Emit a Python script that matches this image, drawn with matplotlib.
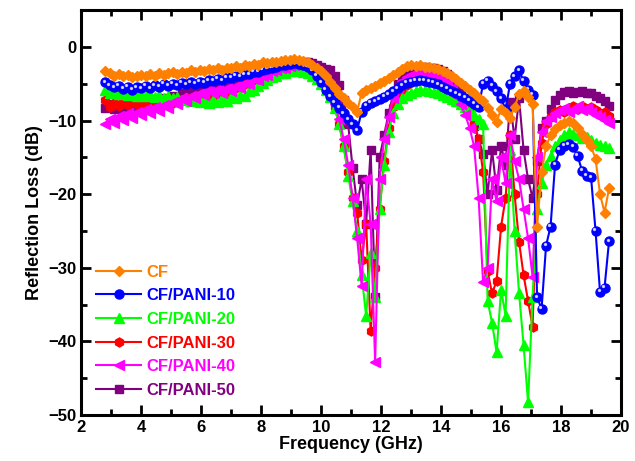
import numpy as np
import matplotlib

matplotlib.use("Agg")
import matplotlib.pyplot as plt
from matplotlib.transforms import offset_copy

plt.rcParams["font.family"] = ["Liberation Sans", "DejaVu Sans"]
plt.rcParams["font.weight"] = "bold"

# frequency sweep (GHz), 0.15 GHz step
freq = np.round(2.8 + 0.15 * np.arange(113), 2)

cf = [
    -3.3, -3.6, -3.9, -3.7, -4.0, -3.8, -4.1, -3.9, -3.8, -4.0,
    -3.7, -3.9, -3.6, -3.8, -3.6, -3.4, -3.7, -3.4, -3.5, -3.2,
    -3.4, -3.1, -3.3, -3.0, -3.2, -2.9, -3.1, -2.8, -2.9, -2.6,
    -2.8, -2.5, -2.6, -2.3, -2.4, -2.1, -2.2, -2.0, -2.0, -1.9,
    -1.8, -1.8, -1.7, -1.8, -1.9, -2.1, -2.4, -2.8, -3.3, -4.0,
    -4.8, -5.6, -6.4, -7.0, -7.6, -8.2, -8.8, -6.2, -5.9, -5.6,
    -5.3, -4.9, -4.6, -4.2, -3.8, -3.4, -3.0, -2.6, -2.5, -2.6,
    -2.5, -2.7, -2.7, -2.9, -3.0, -3.3, -3.6, -4.0, -4.4, -4.9,
    -5.3, -5.8, -6.3, -6.9, -7.4, -8.3, -9.3, -10.2, -8.4, -9.0,
    -9.6, -8.2, -6.4, -6.0, -6.8, -7.8, -24.4, -17.0, -13.5, -12.0,
    -11.2, -10.6, -10.3, -10.0, -10.4, -11.0, -11.8, -12.6, -13.5, -15.2,
    -20.0, -22.5, -19.2,
]
pani10 = [
    -4.8, -5.2, -5.5, -5.3, -5.7, -5.4, -5.8, -5.5, -5.6, -5.3,
    -5.6, -5.2, -5.4, -5.0, -5.3, -5.0, -5.2, -4.9, -5.1, -4.8,
    -5.0, -4.7, -4.9, -4.5, -4.6, -4.3, -4.5, -4.1, -4.2, -3.9,
    -4.0, -3.7, -3.7, -3.4, -3.4, -3.1, -3.0, -2.8, -2.7, -2.5,
    -2.4, -2.3, -2.2, -2.3, -2.4, -2.7, -3.2, -3.9, -4.8, -5.8,
    -6.7, -7.5, -8.3, -9.0, -9.8, -10.5, -11.3, -8.8, -8.0, -7.6,
    -7.4, -7.1, -6.8, -6.4, -6.0, -5.6, -5.2, -4.9, -4.7, -4.6,
    -4.5, -4.6, -4.7, -4.9, -5.1, -5.4, -5.7, -6.0, -6.3, -6.6,
    -6.9, -7.3, -7.7, -8.2, -5.0, -4.6, -5.3, -6.0, -7.0, -8.5,
    -5.0, -4.0, -3.2, -4.6, -5.8, -6.5, -34.0, -35.6, -27.0, -24.4,
    -16.0, -14.0, -13.4, -13.2, -13.6, -14.8, -16.8, -17.5, -17.7, -25.0,
    -33.3, -32.7, -26.4,
]
pani20 = [
    -5.9, -6.3, -6.0, -6.4, -6.1, -6.5, -6.2, -6.6, -6.3, -6.7,
    -6.4, -6.8, -6.5, -6.9, -6.6, -7.0, -6.8, -7.2, -7.0, -7.4,
    -7.1, -7.5, -7.2, -7.6, -7.2, -7.5, -7.0, -7.3, -6.8, -7.0,
    -6.5, -6.6, -6.0, -5.8, -5.3, -4.9, -4.5, -4.1, -3.9, -3.6,
    -3.5, -3.3, -3.3, -3.2, -3.4, -3.6, -3.9, -4.4, -5.0, -5.8,
    -6.8, -8.3, -10.5, -13.5, -17.5, -21.0, -25.0, -31.0, -36.6, -28.0,
    -34.0, -22.0, -16.0, -11.5, -9.0, -7.8, -7.0, -6.5, -6.2, -6.0,
    -5.9, -5.9, -6.0, -6.1, -6.3, -6.5, -6.8, -7.1, -7.4, -7.8,
    -8.2, -8.7, -9.3, -9.8, -10.5, -34.5, -37.5, -41.5, -33.0, -36.5,
    -14.0, -25.0, -33.5, -40.5, -48.3, -34.0, -22.0, -18.5, -16.0, -14.8,
    -13.5, -12.6, -12.0, -11.6, -11.8, -12.0, -12.4, -12.2, -12.6, -13.0,
    -13.3, -13.5, -13.8,
]
pani30 = [
    -7.2, -8.2, -7.6, -8.0, -7.4, -7.9, -7.3, -7.8, -7.2, -7.7,
    -7.1, -7.6, -7.1, -7.5, -7.0, -7.6, -7.0, -7.4, -6.9, -7.3,
    -6.8, -7.1, -6.6, -6.9, -6.4, -6.6, -6.1, -6.2, -5.7, -5.6,
    -5.3, -5.1, -4.8, -4.5, -4.1, -3.8, -3.5, -3.2, -3.0, -2.8,
    -2.6, -2.5, -2.4, -2.5, -2.6, -2.9, -3.3, -3.9, -4.6, -5.5,
    -6.6, -8.2, -10.5, -13.5, -17.0, -20.5, -22.5, -29.0, -24.0, -38.6,
    -30.0, -22.0, -15.5, -11.0, -8.2, -6.6, -5.8, -5.2, -4.8, -4.6,
    -4.4, -4.4, -4.5, -4.7, -4.9, -5.2, -5.6, -6.1, -6.7, -7.4,
    -8.2, -9.0, -10.2, -12.5, -17.0, -30.5, -33.5, -31.8, -24.4, -20.5,
    -12.0, -20.0, -26.5, -31.0, -34.5, -38.0, -20.0, -13.0, -10.5, -9.5,
    -8.8, -8.6, -8.8, -8.3, -8.0, -8.4, -8.0, -8.5, -8.2, -8.6,
    -9.0, -8.8, -9.4,
]
pani40 = [
    -10.5, -9.8, -10.3, -9.4, -9.9, -9.0, -9.6, -8.8, -9.3, -8.5,
    -9.0, -8.2, -8.7, -7.9, -8.3, -7.5, -7.8, -7.0, -7.3, -6.6,
    -6.9, -6.2, -6.5, -5.8, -6.3, -5.7, -6.2, -5.6, -6.0, -5.3,
    -5.6, -4.9, -5.1, -4.4, -4.5, -3.9, -3.8, -3.3, -3.2, -2.9,
    -2.8, -2.6, -2.5, -2.5, -2.6, -2.8, -3.2, -3.7, -4.4, -5.3,
    -6.4, -7.8, -9.8, -12.5, -16.0, -20.5, -26.0, -32.5, -18.0, -24.0,
    -42.8, -18.0, -12.5, -9.5, -7.0, -5.6, -4.6, -4.1, -3.8, -3.6,
    -3.5, -3.5, -3.6, -3.8, -4.0, -4.4, -4.9, -5.6, -6.6, -7.8,
    -9.2, -11.0, -13.5, -20.5, -32.0, -30.0, -18.0, -21.0, -15.0, -18.5,
    -12.0, -15.5, -18.0, -22.0, -26.0, -31.2, -15.0, -11.5, -10.0, -9.5,
    -9.0, -8.6, -8.3, -8.8, -8.4, -8.0, -8.6, -8.3, -8.8, -9.2,
    -9.5, -9.9, -10.3,
]
pani50 = [
    -8.3, -7.8, -8.4, -7.9, -8.5, -8.0, -8.3, -7.8, -8.1, -7.6,
    -7.8, -7.3, -7.5, -7.0, -7.2, -6.7, -6.8, -6.3, -6.5, -6.0,
    -6.1, -5.6, -5.8, -5.2, -5.4, -4.9, -5.3, -4.7, -5.0, -4.4,
    -4.5, -4.0, -4.0, -3.6, -3.5, -3.1, -3.0, -2.7, -2.6, -2.4,
    -2.2, -2.1, -2.0, -2.0, -2.0, -2.1, -2.2, -2.4, -2.7, -3.0,
    -3.2, -4.0, -5.2, -7.2, -10.5, -16.5, -21.5, -18.0, -24.0, -14.0,
    -34.0, -15.0, -12.0, -9.0, -6.5, -5.0, -4.0, -3.4, -3.0, -2.8,
    -2.7, -2.7, -2.8, -2.9, -3.0, -3.3, -3.7, -4.3, -5.0, -6.0,
    -7.2, -9.0, -10.7, -12.5, -14.6, -20.0, -14.0, -19.5, -13.5, -16.0,
    -7.5, -12.5, -7.0, -14.0, -18.0, -20.5, -15.5, -11.0, -10.0, -8.5,
    -7.2, -6.5, -6.1, -6.0, -6.2, -6.1, -6.0, -6.3, -6.2, -6.6,
    -6.9, -7.4, -8.0,
]

labels = ["CF", "CF/PANI-10", "CF/PANI-20", "CF/PANI-30", "CF/PANI-40", "CF/PANI-50"]
values = [cf, pani10, pani20, pani30, pani40, pani50]
colors = ["#FF8000", "#0000FF", "#00FF00", "#FF0000", "#FF00FF", "#800080"]
markers = ["D", "o", "^", "h", "<", "s"]
sizes = [5.5, 6.5, 6.5, 6.5, 6.5, 5.5]
layer = [6, 5, 3, 2, 4, 1]  # stacking order seen in the original

fig, ax = plt.subplots(figsize=(6.35, 4.61), dpi=100)
fig.subplots_adjust(left=0.128, right=0.978, bottom=0.1, top=0.978)

handles = []
for label, y, color, marker, ms, z in zip(labels, values, colors, markers, sizes, layer):
    (line,) = ax.plot(freq, y, color=color, marker=marker, ms=ms, mec=color, lw=1.5,
                      label=label, zorder=z)
    handles.append(line)
    if marker == "o":
        # glossy highlight on the sphere markers
        shine = offset_copy(ax.transData, fig=fig, x=-1.1, y=1.1, units="points")
        ax.plot(freq, y, ls="none", marker="o", ms=1.4, color="white", alpha=0.7,
                transform=shine, zorder=z)

ax.set_xlim(2, 20)
ax.set_ylim(-50, 5)
ax.set_xticks(np.arange(2, 21, 2))
ax.set_xticks(np.arange(3, 20, 2), minor=True)
ax.set_yticks(np.arange(-50, 1, 10))
ax.set_yticks(np.arange(-45, 5, 10), minor=True)
ax.tick_params(which="both", direction="in", top=True, right=True, width=2, labelsize=12)
ax.tick_params(which="major", length=7)
ax.tick_params(which="minor", length=4)
for side in ax.spines.values():
    side.set_linewidth(2.2)

ax.set_xlabel("Frequency (GHz)", fontsize=13, fontweight="bold", labelpad=1)
ax.set_ylabel("Reflection Loss (dB)", fontsize=13, fontweight="bold", labelpad=4)

ax.legend(handles=handles, loc="lower left", bbox_to_anchor=(0.0, 0.005), frameon=False,
          labelcolor="linecolor", prop={"weight": "bold", "size": 12}, handlelength=2.7,
          handletextpad=0.3, labelspacing=0.52)

fig.savefig("out.png", dpi=100)
